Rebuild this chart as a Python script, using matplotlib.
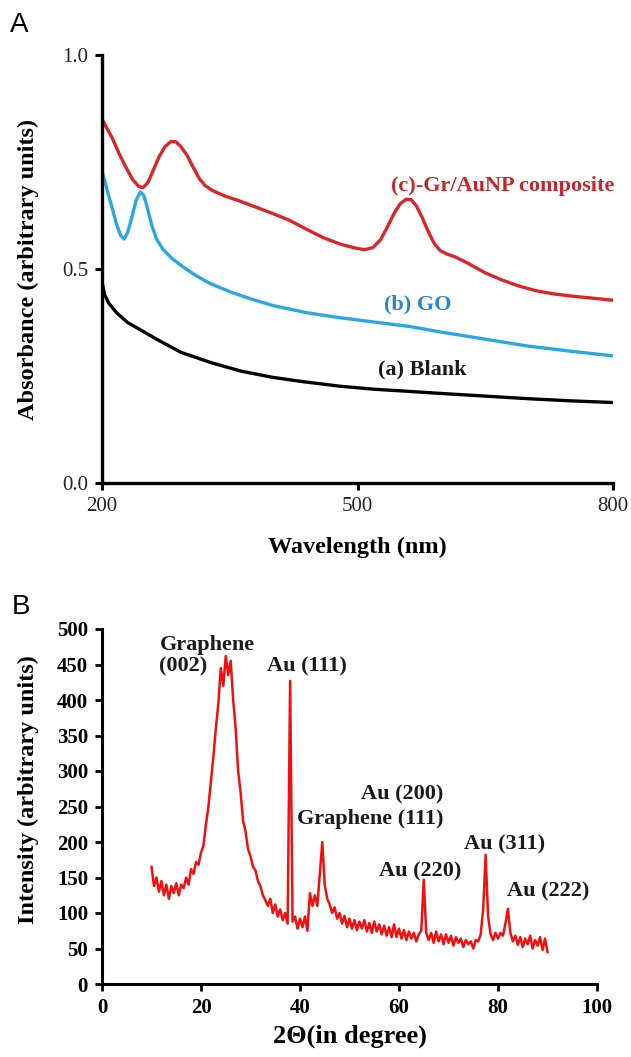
import numpy as np
import matplotlib
matplotlib.use("Agg")
import matplotlib.pyplot as plt

plt.rcParams["font.family"] = ["Liberation Serif", "DejaVu Serif"]

# ---- Panel A: UV-vis absorbance ----
red_wl = [200, 206, 212, 220, 228, 236, 243, 248, 254, 260, 267, 274, 281, 287,
          293, 300, 307, 314, 321, 330, 345, 360, 380, 400, 420, 440, 460, 480,
          495, 508, 518, 527, 535, 543, 550, 557, 563, 569, 576, 583, 590, 597,
          605, 615, 630, 650, 670, 690, 710, 730, 750, 775, 800]
red_abs = [0.850, 0.828, 0.806, 0.770, 0.738, 0.709, 0.693, 0.690, 0.702, 0.730,
           0.762, 0.786, 0.798, 0.797, 0.785, 0.765, 0.738, 0.712, 0.695, 0.683,
           0.670, 0.660, 0.645, 0.630, 0.614, 0.593, 0.573, 0.558, 0.550, 0.545,
           0.550, 0.568, 0.598, 0.630, 0.652, 0.663, 0.662, 0.648, 0.620, 0.588,
           0.560, 0.543, 0.535, 0.528, 0.513, 0.491, 0.474, 0.460, 0.449, 0.442,
           0.437, 0.432, 0.427]

go_wl = [200, 204, 208, 212, 217, 222, 226, 230, 235, 240, 245, 249, 253, 258,
         264, 272, 282, 295, 310, 326, 350, 375, 402, 440, 480, 520, 560, 600,
         650, 700, 750, 800]
go_abs = [0.729, 0.700, 0.670, 0.642, 0.605, 0.578, 0.570, 0.585, 0.620, 0.660,
          0.680, 0.672, 0.645, 0.605, 0.570, 0.545, 0.525, 0.505, 0.485, 0.467,
          0.447, 0.430, 0.414, 0.398, 0.386, 0.376, 0.366, 0.352, 0.336, 0.320,
          0.308, 0.297]

blank_wl = [200, 203, 208, 217, 230, 245, 265, 293, 330, 364, 400, 435, 480,
            520, 553, 600, 650, 700, 750, 800]
blank_abs = [0.470, 0.440, 0.420, 0.398, 0.375, 0.358, 0.335, 0.305, 0.280,
             0.261, 0.247, 0.237, 0.226, 0.219, 0.215, 0.209, 0.203, 0.197,
             0.192, 0.188]

# ---- Panel B: XRD pattern (2 theta step 0.5 deg, 10 to 90) ----
two_theta = np.arange(10, 90.5, 0.5)
intensity = [
    165, 138, 150, 130, 145, 125, 140, 120, 138, 128,   # 10.0 - 14.5
    142, 125, 140, 135, 150, 140, 162, 155, 172, 168,   # 15.0 - 19.5
    185, 195, 225, 250, 285, 320, 360, 395, 445, 420,   # 20.0 - 24.5
    462, 435, 455, 400, 360, 300, 270, 230, 215, 190,   # 25.0 - 29.5
    180, 165, 160, 145, 138, 125, 118, 110, 120, 100,   # 30.0 - 34.5
    112, 95, 105, 90, 100, 85, 427, 88, 95, 78,         # 35.0 - 39.5
    92, 80, 95, 75, 128, 110, 125, 110, 155, 200,       # 40.0 - 44.5
    140, 120, 112, 100, 108, 92, 100, 85, 96, 80,       # 45.0 - 49.5
    92, 78, 90, 76, 88, 78, 90, 74, 86, 72,             # 50.0 - 54.5
    88, 74, 84, 70, 82, 68, 80, 66, 84, 66,             # 55.0 - 59.5
    78, 64, 76, 62, 74, 64, 72, 60, 70, 75,             # 60.0 - 64.5
    147, 72, 62, 72, 58, 74, 60, 70, 56, 70,            # 65.0 - 69.5
    58, 68, 54, 66, 58, 64, 52, 62, 56, 60,             # 70.0 - 74.5
    50, 62, 60, 70, 105, 182, 95, 70, 62, 72,           # 75.0 - 79.5
    64, 72, 68, 85, 106, 72, 60, 68, 55, 66,            # 80.0 - 84.5
    52, 64, 56, 68, 50, 62, 54, 66, 48, 64,             # 85.0 - 89.5
    45,                                                 # 90.0
]

peak_labels = ["Graphene\n(002)", "Au (111)", "Au (200)", "Graphene (111)",
               "Au (220)", "Au (311)", "Au (222)"]
peak_x = [11.6, 41.4, 60.6, 68.9, 64.2, 81.4, 90.1]
peak_y = [462, 447, 267, 232, 159, 197, 131]
peak_ha = ["left", "center", "center", "right", "center", "center", "center"]

fig = plt.figure(figsize=(6.31, 10.57), dpi=100)

# Panel A
ax1 = fig.add_axes([102 / 631, 1 - 483 / 1057, 511 / 631, 428 / 1057])
ax1.plot(red_wl, red_abs, color="#d8262a", lw=2.4, solid_capstyle="round")
ax1.plot(go_wl, go_abs, color="#29a8e0", lw=2.4, solid_capstyle="round")
ax1.plot(blank_wl, blank_abs, color="black", lw=2.4, solid_capstyle="round")
ax1.set_xlim(200, 800)
ax1.set_ylim(0, 1.0)
ax1.set_xticks([200, 500, 800])
ax1.set_yticks([0.0, 0.5, 1.0])
ax1.set_yticklabels(["0.0", "0.5", "1.0"])
for s in ["top", "right"]:
    ax1.spines[s].set_visible(False)
for s in ["left", "bottom"]:
    ax1.spines[s].set_linewidth(2.4)
ax1.tick_params(width=2.2, length=5, labelsize=15, colors="black",
                labelcolor="#222222", pad=5)
ax1.set_xlabel("Wavelength (nm)", fontsize=17.5, fontweight="bold")
ax1.xaxis.set_label_coords(0.5, -0.125)
fig.text(28 / 631, 1 - 269 / 1057, "Absorbance (arbitrary units)", rotation=90,
         fontsize=17.5, fontweight="bold", ha="center", va="center")
ax1.text(670, 0.693, "(c)-Gr/AuNP composite", color="#c4262c", fontsize=16,
         fontweight="bold", ha="center", va="center")
ax1.text(571, 0.418, "(b) GO", color="#2a86c6", fontsize=16,
         fontweight="bold", ha="center", va="center")
ax1.text(576, 0.265, "(a) Blank", color="#1a1a1a", fontsize=16,
         fontweight="bold", ha="center", va="center")
fig.text(10 / 631, 1 - 12 / 1057, "A", family="Liberation Sans", fontsize=20,
         va="top", ha="left")

# Panel B
ax2 = fig.add_axes([102 / 631, 1 - 984 / 1057, 495 / 631, 355 / 1057])
ax2.plot(two_theta, intensity, color="#f01010", lw=1.8)
ax2.set_xlim(0, 100)
ax2.set_ylim(0, 500)
ax2.set_xticks(range(0, 101, 20))
ax2.set_yticks(range(0, 501, 50))
for s in ["top", "right"]:
    ax2.spines[s].set_visible(False)
for s in ["left", "bottom"]:
    ax2.spines[s].set_linewidth(2.2)
ax2.tick_params(width=2.0, length=5, labelsize=15, pad=5)
for lab in ax2.get_xticklabels() + ax2.get_yticklabels():
    lab.set_fontweight("bold")
ax2.set_xlabel("2\u0398(in degree)", fontsize=19, fontweight="bold")
ax2.xaxis.set_label_coords(0.5, -0.115)
fig.text(28 / 631, 1 - 790 / 1057, "Intensity (arbitrary units)", rotation=90,
         fontsize=17.5, fontweight="bold", ha="center", va="center")
for lbl, px, py, ha in zip(peak_labels, peak_x, peak_y, peak_ha):
    ax2.text(px, py, lbl, fontsize=16, fontweight="bold", ha=ha, va="center",
             color="#1a1a1a", linespacing=1.1)
fig.text(12 / 631, 1 - 594 / 1057, "B", family="Liberation Sans", fontsize=20,
         va="top", ha="left")

fig.savefig("out.png", dpi=100)
